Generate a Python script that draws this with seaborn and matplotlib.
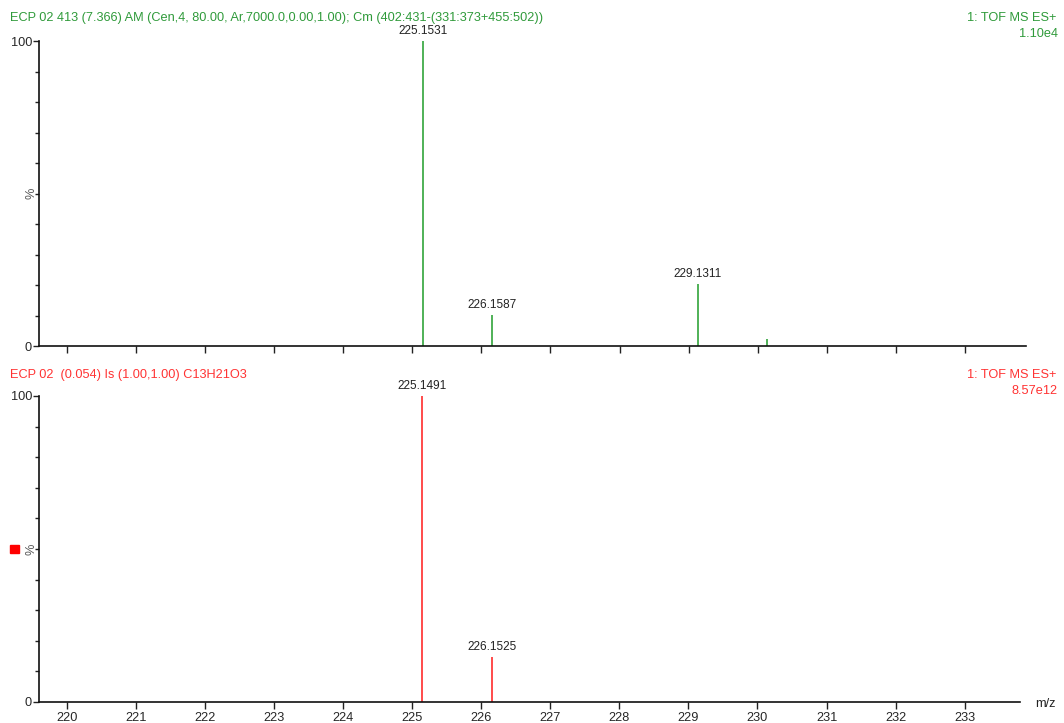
import seaborn as sns
import matplotlib.pyplot as plt
import matplotlib.patches as mpatches
import pandas as pd

# peaks
top_mz = [225.1531, 226.1587, 229.1311, 230.13]
top_int = [100, 10.2, 20.3, 2.3]
top_labels = ["225.1531", "226.1587", "229.1311", ""]
bot_mz = [225.1491, 226.1525]
bot_int = [100, 14.7]
bot_labels = ["225.1491", "226.1525"]
xticks = list(range(220, 234))

top_title = "ECP 02 413 (7.366) AM (Cen,4, 80.00, Ar,7000.0,0.00,1.00); Cm (402:431-(331:373+455:502))"
bot_title = "ECP 02  (0.054) Is (1.00,1.00) C13H21O3"
top_right = ["1: TOF MS ES+", "1.10e4"]
bot_right = ["1: TOF MS ES+", "8.57e12"]

sns.set_theme(style="white")
plt.rcParams["font.family"] = ["Liberation Sans", "DejaVu Sans"]

GREEN = "#1f9c2a"
GREEN_TXT = "#2f9a3a"
RED = "#ff1a1a"
RED_TXT = "#ff3333"
FS = 9.2

fig = plt.figure(figsize=(10.64, 7.23), dpi=100)
W, H = 1064, 723
ax1 = fig.add_axes([39 / W, 1 - 346 / H, (1026 - 39) / W, 305 / H])
ax2 = fig.add_axes([39 / W, 1 - 702 / H, (1020 - 39) / W, 306 / H])


def draw(ax, mz, inten, labels, color, xmax, show_x):
    df = pd.DataFrame({"mz": mz, "int": inten, "lab": labels})
    ax.vlines(df["mz"], 0, df["int"], color=color, lw=1.1)
    for _, r in df.iterrows():
        if r["lab"]:
            ax.text(r["mz"], r["int"] + 1.2, r["lab"], ha="center", va="bottom",
                    fontsize=8.5, color="#222222", clip_on=False)
    ax.set_xlim(219.6, xmax)
    ax.set_ylim(0, 100)
    ax.set_xticks(xticks)
    ax.set_yticks([0, 100])
    ax.set_yticklabels(["0", "100"])
    ax.set_yticks(range(10, 100, 10), minor=True)
    if show_x:
        ax.set_xticklabels([str(t) for t in xticks])
    else:
        ax.set_xticklabels([])
    ax.tick_params(axis="x", which="major", direction="out", length=5, width=1,
                   color="#222222", labelsize=FS, pad=2, bottom=True)
    ax.tick_params(axis="y", which="major", direction="out", length=4, width=1,
                   color="#222222", labelsize=FS, pad=1, left=True)
    ax.tick_params(axis="y", which="minor", direction="out", length=3, width=1,
                   color="#222222", left=True)
    sns.despine(ax=ax)
    for s in ["left", "bottom"]:
        ax.spines[s].set_color("#111111")
        ax.spines[s].set_linewidth(1.2)
    ax.set_ylabel("%", fontsize=FS, color="#555555", labelpad=0)
    ax.yaxis.set_label_coords(-0.002, 0.5)


draw(ax1, top_mz, top_int, top_labels, GREEN, 233.88, False)
draw(ax2, bot_mz, bot_int, bot_labels, RED, 233.8, True)

fig.text(10 / W, 1 - 18 / H, top_title, fontsize=FS, color=GREEN_TXT, va="center")
fig.text(1056 / W, 1 - 18 / H, top_right[0], fontsize=FS, color=GREEN_TXT, va="center", ha="right")
fig.text(1058 / W, 1 - 34 / H, top_right[1], fontsize=FS, color=GREEN_TXT, va="center", ha="right")

fig.text(10 / W, 1 - 375 / H, bot_title, fontsize=FS, color=RED_TXT, va="center")
fig.text(1056 / W, 1 - 375 / H, bot_right[0], fontsize=FS, color=RED_TXT, va="center", ha="right")
fig.text(1058 / W, 1 - 391 / H, bot_right[1], fontsize=FS, color=RED_TXT, va="center", ha="right")

fig.text(1045 / W, 1 - 704 / H, "m/z", fontsize=FS, color="#222222", va="center", ha="center")
fig.patches.append(mpatches.Rectangle((10 / W, 1 - 553 / H), 9 / W, 8 / H,
                                      transform=fig.transFigure, color="#ff0000"))

fig.savefig("out.png", dpi=100)
